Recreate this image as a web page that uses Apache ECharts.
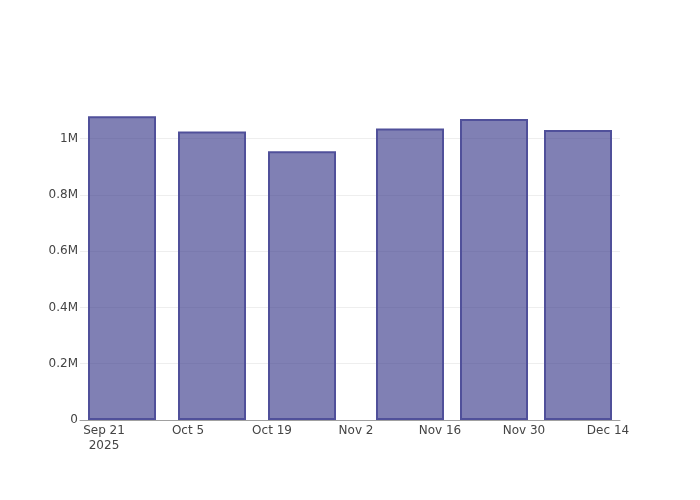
<!DOCTYPE html>
<html>
<head>
<meta charset="utf-8">
<script src="https://cdn.jsdelivr.net/npm/echarts@6/dist/echarts.min.js"></script>
<style>html,body{margin:0;padding:0;background:#fff}#c{width:700px;height:500px}</style>
</head>
<body>
<div id="c"></div>
<script>
// Data
var barDates = ['2025-09-24', '2025-10-09', '2025-10-24', '2025-11-11', '2025-11-25', '2025-12-09'];
var barValues = [1080000, 1026000, 955000, 1036000, 1070000, 1031000];
var xTickDates = ['2025-09-21', '2025-10-05', '2025-10-19', '2025-11-02', '2025-11-16', '2025-11-30', '2025-12-14'];
var xTickLabels = ['Sep 21\n2025', 'Oct 5', 'Oct 19', 'Nov 2', 'Nov 16', 'Nov 30', 'Dec 14'];
var xRange = ['2025-09-17', '2025-12-16'];
var yTicks = [0, 200000, 400000, 600000, 800000, 1000000];
var yTickLabels = ['0', '0.2M', '0.4M', '0.6M', '0.8M', '1M'];
var yMax = 1137600;

function ts(s) { var p = s.split('-'); return Date.UTC(+p[0], +p[1] - 1, +p[2]); }

var tickTs = xTickDates.map(ts);
var chart = echarts.init(document.getElementById('c'), null, {renderer: 'canvas'});
var font = 'DejaVu Sans';
var gridColors = yTicks.map(function () { return '#eeeeee'; });
gridColors.push('rgba(0,0,0,0)');

chart.setOption({
  animation: false,
  backgroundColor: '#ffffff',
  grid: {left: 80, right: 80, top: 100, bottom: 80, containLabel: false},
  xAxis: {
    type: 'value',
    min: ts(xRange[0]),
    max: ts(xRange[1]),
    axisLine: {show: true, lineStyle: {color: '#a0a0a0', width: 1}},
    axisTick: {show: false},
    splitLine: {show: false},
    axisLabel: {
      customValues: tickTs,
      showMinLabel: true,
      showMaxLabel: true,
      color: '#444',
      fontFamily: font,
      fontSize: 12,
      lineHeight: 15,
      margin: 3,
      hideOverlap: false,
      formatter: function (v) {
        var i = tickTs.indexOf(v);
        return i >= 0 ? xTickLabels[i] : '';
      }
    }
  },
  yAxis: {
    type: 'value',
    min: 0,
    max: yMax,
    interval: 200000,
    axisLine: {show: false},
    axisTick: {show: false},
    splitLine: {show: true, lineStyle: {color: gridColors, width: 1}},
    axisLabel: {
      color: '#444',
      fontFamily: font,
      fontSize: 12,
      margin: 2,
      formatter: function (v) {
        var i = yTicks.indexOf(v);
        return i >= 0 ? yTickLabels[i] : '';
      }
    }
  },
  series: [{
    type: 'bar',
    barWidth: 68,
    data: barDates.map(function (d, i) { return [ts(d), barValues[i]]; }),
    itemStyle: {
      color: 'rgba(60,60,140,0.65)',
      borderColor: '#50509a',
      borderWidth: 2
    }
  }]
});
</script>
</body>
</html>
